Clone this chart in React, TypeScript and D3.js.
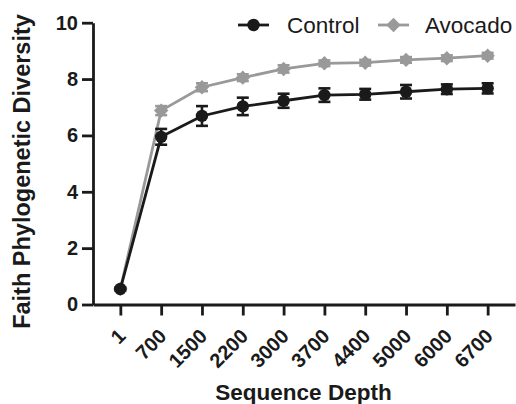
import React, { useEffect, useRef } from 'react';
import * as d3 from 'd3';

// values
const depths = ['1', '700', '1500', '2200', '3000', '3700', '4400', '5000', '6000', '6700'];
const controlMean = [0.55, 5.95, 6.69, 7.03, 7.23, 7.43, 7.46, 7.55, 7.64, 7.67];
const controlSem = [0.05, 0.28, 0.35, 0.31, 0.25, 0.24, 0.19, 0.24, 0.17, 0.18];
const avocadoMean = [0.55, 6.88, 7.71, 8.05, 8.36, 8.56, 8.58, 8.68, 8.74, 8.83];
const avocadoSem = [0.04, 0.16, 0.14, 0.12, 0.13, 0.1, 0.1, 0.1, 0.1, 0.1];
const yTicks = [0, 2, 4, 6, 8, 10];
const seriesNames = ['Control', 'Avocado'];

const FONT = "'Liberation Sans', Arial, Helvetica, sans-serif";
const INK = '#1a1a1a';
const GREY = '#999999';

function App() {
  const ref = useRef<SVGSVGElement>(null);

  useEffect(() => {
    const svg = d3.select(ref.current);
    svg.selectAll('*').remove();

    const x = d3.scalePoint<string>().domain(depths).range([93, 515]).padding(0.67);
    const y = d3.scaleLinear().domain([0, 10]).range([304.5, 22.7]);

    // series, avocado first so control sits on top
    const series = [
      { name: seriesNames[1], mean: avocadoMean, sem: avocadoSem, color: GREY, shape: 'diamond' },
      { name: seriesNames[0], mean: controlMean, sem: controlSem, color: INK, shape: 'circle' },
    ];

    const line = d3
      .line<number>()
      .x((_, i) => x(depths[i]) as number)
      .y((d) => y(d));

    const diamond = d3.symbol().type(d3.symbolSquare).size(104);

    series.forEach((s) => {
      const g = svg.append('g');
      g.append('path')
        .attr('d', line(s.mean))
        .attr('fill', 'none')
        .attr('stroke', s.color)
        .attr('stroke-width', 2.8);

      const eb = g
        .selectAll('.eb')
        .data(s.mean)
        .enter()
        .append('g')
        .attr('stroke', s.color)
        .attr('stroke-width', 2.6);
      eb.append('line')
        .attr('x1', (_, i) => x(depths[i]) as number)
        .attr('x2', (_, i) => x(depths[i]) as number)
        .attr('y1', (d, i) => y(d - s.sem[i]))
        .attr('y2', (d, i) => y(d + s.sem[i]));
      [-1, 1].forEach((sign) => {
        eb.append('line')
          .attr('x1', (_, i) => (x(depths[i]) as number) - 6)
          .attr('x2', (_, i) => (x(depths[i]) as number) + 6)
          .attr('y1', (d, i) => y(d + sign * s.sem[i]))
          .attr('y2', (d, i) => y(d + sign * s.sem[i]));
      });

      if (s.shape === 'circle') {
        g.selectAll('.pt')
          .data(s.mean)
          .enter()
          .append('circle')
          .attr('cx', (_, i) => x(depths[i]) as number)
          .attr('cy', (d) => y(d))
          .attr('r', 6.2)
          .attr('fill', s.color);
      } else {
        g.selectAll('.pt')
          .data(s.mean)
          .enter()
          .append('path')
          .attr('d', diamond())
          .attr('transform', (d, i) => `translate(${x(depths[i])},${y(d)}) rotate(45)`)
          .attr('fill', s.color);
      }
    });

    // y axis
    const yAxis = svg
      .append('g')
      .attr('transform', 'translate(93,0)')
      .call(d3.axisLeft(y).tickValues(yTicks).tickSize(11).tickPadding(4).tickSizeOuter(0));
    yAxis.select('.domain').attr('stroke', INK).attr('stroke-width', 2.8);
    yAxis.selectAll('.tick line').attr('stroke', INK).attr('stroke-width', 2.8);
    yAxis
      .selectAll('.tick text')
      .attr('fill', INK)
      .attr('font-family', FONT)
      .attr('font-size', 20)
      .attr('font-weight', 'bold');

    // x axis
    const xAxis = svg
      .append('g')
      .attr('transform', 'translate(0,304.5)')
      .call(d3.axisBottom(x).tickSize(11).tickSizeOuter(0));
    xAxis.select('.domain').attr('stroke', INK).attr('stroke-width', 2.8);
    xAxis.selectAll('.tick line').attr('stroke', INK).attr('stroke-width', 2.8);
    xAxis
      .selectAll('.tick text')
      .attr('fill', INK)
      .attr('font-family', FONT)
      .attr('font-size', 20)
      .attr('font-weight', 'bold')
      .attr('text-anchor', 'end')
      .attr('dy', null)
      .attr('y', 0)
      .attr('transform', 'translate(6,33) rotate(-45)');

    // axis titles
    svg
      .append('text')
      .attr('transform', 'translate(30,171.5) rotate(-90)')
      .attr('text-anchor', 'middle')
      .attr('font-family', FONT)
      .attr('font-size', 23.5)
      .attr('font-weight', 'bold')
      .attr('fill', INK)
      .text('Faith Phylogenetic Diversity');

    svg
      .append('text')
      .attr('x', 303.5)
      .attr('y', 400)
      .attr('text-anchor', 'middle')
      .attr('font-family', FONT)
      .attr('font-size', 22.5)
      .attr('font-weight', 'bold')
      .attr('fill', INK)
      .text('Sequence Depth');

    // legend
    const legend = [
      { name: seriesNames[0], color: INK, shape: 'circle', x0: 238, tx: 287 },
      { name: seriesNames[1], color: GREY, shape: 'diamond', x0: 378, tx: 425 },
    ];
    legend.forEach((l) => {
      const g = svg.append('g');
      g.append('line')
        .attr('x1', l.x0)
        .attr('x2', l.x0 + 31)
        .attr('y1', 25)
        .attr('y2', 25)
        .attr('stroke', l.color)
        .attr('stroke-width', 2.8);
      if (l.shape === 'circle') {
        g.append('circle').attr('cx', l.x0 + 15.5).attr('cy', 25).attr('r', 6.2).attr('fill', l.color);
      } else {
        g.append('path')
          .attr('d', diamond())
          .attr('transform', `translate(${l.x0 + 15.5},25) rotate(45)`)
          .attr('fill', l.color);
      }
      g.append('text')
        .attr('x', l.tx)
        .attr('y', 33)
        .attr('font-family', FONT)
        .attr('font-size', 22.5)
        .attr('fill', INK)
        .text(l.name);
    });
  }, []);

  return (
    <svg
      ref={ref}
      width={516}
      height={404}
      style={{ position: 'absolute', left: 0, top: 0, background: '#fff' }}
    />
  );
}

export default App;
